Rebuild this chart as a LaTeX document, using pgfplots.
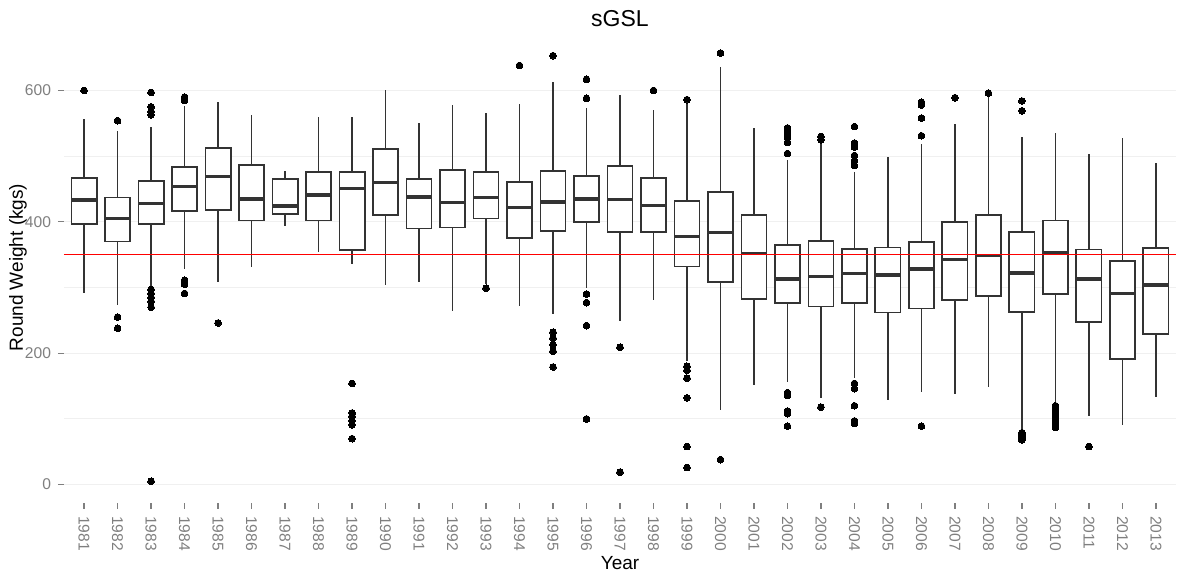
\documentclass[border=0pt]{standalone}
\usepackage{fontspec}
\setmainfont{Liberation Sans}
\usepackage{pgfplots}
\pgfplotsset{compat=1.18}
\usepgfplotslibrary{statistics}
\definecolor{boxc}{HTML}{333333}
\definecolor{tickc}{HTML}{7F7F7F}
\definecolor{gridc}{HTML}{F0F0F0}
\pgfplotsset{bxp/.style={draw=boxc, line width=0.9pt, fill=white, mark=*, mark size=1.7pt, mark options={draw=black, fill=black, line width=0pt}}}
\begin{document}
\begin{tikzpicture}
\begin{axis}[
  scale only axis, width=556pt, height=235.5pt,
  xmin=0.4, xmax=33.6, ymin=-28, ymax=689,
  axis line style={draw=none},
  xtick={1,2,3,4,5,6,7,8,9,10,11,12,13,14,15,16,17,18,19,20,21,22,23,24,25,26,27,28,29,30,31,32,33},
  xticklabels={1981,1982,1983,1984,1985,1986,1987,1988,1989,1990,1991,1992,1993,1994,1995,1996,1997,1998,1999,2000,2001,2002,2003,2004,2005,2006,2007,2008,2009,2010,2011,2012,2013},
  ytick={0,200,400,600}, minor ytick={100,300,500},
  ymajorgrids, yminorgrids,
  major grid style={gridc, line width=0.6pt},
  minor grid style={gridc, line width=0.5pt},
  tick align=outside, major tick length=3pt, minor tick length=0pt,
  xtick pos=bottom, ytick pos=left,
  tick style={tickc, line width=0.6pt},
  ticklabel style={font=\fontsize{7.8}{9}\selectfont, text=tickc},
  xticklabel style={rotate=-90, anchor=west},
  /pgf/number format/assume math mode=true,
  title={sGSL},
  every axis title/.style={at={(axis description cs:0.5,1)}, anchor=base, yshift=2.75pt, font=\fontsize{11.5}{13}\selectfont},
  xlabel={Year},
  xlabel style={font=\fontsize{9.5}{11}\selectfont, at={(axis description cs:0.5,-0.1274)}, anchor=center},
  ylabel={Round Weight (kgs)},
  ylabel style={font=\fontsize{9.5}{11}\selectfont, at={(axis description cs:-0.0414,0.5)}, anchor=center},
  boxplot/draw direction=y,
  boxplot/box extend=0.75,
  boxplot/whisker extend=0,
  boxplot/every median/.style={line width=1.7pt},
]
\addplot[bxp, boxplot prepared={draw position=1, lower whisker=291, lower quartile=396.5, median=433, upper quartile=467, upper whisker=557}] table[row sep=\\, y index=0] {y\\600\\};
\addplot[bxp, boxplot prepared={draw position=2, lower whisker=273, lower quartile=370, median=405.5, upper quartile=437, upper whisker=539}] table[row sep=\\, y index=0] {y\\554\\255\\238\\};
\addplot[bxp, boxplot prepared={draw position=3, lower whisker=302, lower quartile=396.5, median=428, upper quartile=462, upper whisker=545}] table[row sep=\\, y index=0] {y\\597\\575\\568\\563\\297\\291\\285\\279\\270\\5\\};
\addplot[bxp, boxplot prepared={draw position=4, lower whisker=328, lower quartile=417, median=454, upper quartile=483, upper whisker=577}] table[row sep=\\, y index=0] {y\\590\\587\\585\\311\\305\\291\\};
\addplot[bxp, boxplot prepared={draw position=5, lower whisker=308, lower quartile=418, median=469, upper quartile=512, upper whisker=582}] table[row sep=\\, y index=0] {y\\246\\};
\addplot[bxp, boxplot prepared={draw position=6, lower whisker=332, lower quartile=402, median=435, upper quartile=487, upper whisker=563}] coordinates {};
\addplot[bxp, boxplot prepared={draw position=7, lower whisker=394, lower quartile=412, median=424, upper quartile=465, upper whisker=478}] coordinates {};
\addplot[bxp, boxplot prepared={draw position=8, lower whisker=354, lower quartile=402, median=441, upper quartile=476, upper whisker=559}] coordinates {};
\addplot[bxp, boxplot prepared={draw position=9, lower whisker=336, lower quartile=357, median=451, upper quartile=476, upper whisker=560}] table[row sep=\\, y index=0] {y\\154\\109\\104\\97\\91\\70\\};
\addplot[bxp, boxplot prepared={draw position=10, lower whisker=304, lower quartile=411, median=460, upper quartile=511, upper whisker=601}] coordinates {};
\addplot[bxp, boxplot prepared={draw position=11, lower whisker=308, lower quartile=390, median=438, upper quartile=465, upper whisker=551}] coordinates {};
\addplot[bxp, boxplot prepared={draw position=12, lower whisker=265, lower quartile=391.5, median=429, upper quartile=479, upper whisker=578}] coordinates {};
\addplot[bxp, boxplot prepared={draw position=13, lower whisker=305, lower quartile=405, median=437, upper quartile=476, upper whisker=565}] table[row sep=\\, y index=0] {y\\299\\};
\addplot[bxp, boxplot prepared={draw position=14, lower whisker=272, lower quartile=376, median=422, upper quartile=461, upper whisker=580}] table[row sep=\\, y index=0] {y\\638\\};
\addplot[bxp, boxplot prepared={draw position=15, lower whisker=259, lower quartile=386.5, median=430, upper quartile=478, upper whisker=613}] table[row sep=\\, y index=0] {y\\653\\232\\223\\213\\203\\179\\};
\addplot[bxp, boxplot prepared={draw position=16, lower whisker=300, lower quartile=400, median=435, upper quartile=470, upper whisker=574}] table[row sep=\\, y index=0] {y\\617\\588\\290\\277\\242\\100\\};
\addplot[bxp, boxplot prepared={draw position=17, lower whisker=249, lower quartile=384, median=434, upper quartile=485, upper whisker=593}] table[row sep=\\, y index=0] {y\\209\\19\\};
\addplot[bxp, boxplot prepared={draw position=18, lower whisker=281, lower quartile=384, median=425, upper quartile=467, upper whisker=570}] table[row sep=\\, y index=0] {y\\600\\};
\addplot[bxp, boxplot prepared={draw position=19, lower whisker=188, lower quartile=332, median=378, upper quartile=432, upper whisker=579}] table[row sep=\\, y index=0] {y\\586\\180\\174\\162\\132\\58\\26\\};
\addplot[bxp, boxplot prepared={draw position=20, lower whisker=113, lower quartile=308, median=384, upper quartile=445, upper whisker=636}] table[row sep=\\, y index=0] {y\\657\\38\\};
\addplot[bxp, boxplot prepared={draw position=21, lower whisker=152, lower quartile=283, median=352, upper quartile=410, upper whisker=543}] coordinates {};
\addplot[bxp, boxplot prepared={draw position=22, lower whisker=156, lower quartile=277, median=313, upper quartile=365, upper whisker=494}] table[row sep=\\, y index=0] {y\\543\\538\\534\\529\\521\\504\\140\\136\\112\\108\\89\\};
\addplot[bxp, boxplot prepared={draw position=23, lower whisker=132, lower quartile=271, median=317, upper quartile=371, upper whisker=519}] table[row sep=\\, y index=0] {y\\530\\525\\118\\};
\addplot[bxp, boxplot prepared={draw position=24, lower whisker=163, lower quartile=277, median=321, upper quartile=359, upper whisker=476}] table[row sep=\\, y index=0] {y\\545\\520\\514\\501\\493\\486\\154\\146\\120\\97\\93\\};
\addplot[bxp, boxplot prepared={draw position=25, lower whisker=129, lower quartile=262, median=319, upper quartile=361, upper whisker=498}] coordinates {};
\addplot[bxp, boxplot prepared={draw position=26, lower whisker=141, lower quartile=268, median=328, upper quartile=369, upper whisker=519}] table[row sep=\\, y index=0] {y\\582\\578\\558\\531\\89\\};
\addplot[bxp, boxplot prepared={draw position=27, lower whisker=138, lower quartile=281, median=343, upper quartile=400, upper whisker=549}] table[row sep=\\, y index=0] {y\\589\\};
\addplot[bxp, boxplot prepared={draw position=28, lower whisker=148, lower quartile=287, median=349, upper quartile=410, upper whisker=593}] table[row sep=\\, y index=0] {y\\596\\};
\addplot[bxp, boxplot prepared={draw position=29, lower whisker=82, lower quartile=263, median=322, upper quartile=384, upper whisker=529}] table[row sep=\\, y index=0] {y\\584\\569\\79\\76\\73\\70\\68\\};
\addplot[bxp, boxplot prepared={draw position=30, lower whisker=124, lower quartile=290, median=353, upper quartile=402, upper whisker=536}] table[row sep=\\, y index=0] {y\\120\\117\\114\\111\\108\\105\\102\\99\\96\\93\\90\\87\\};
\addplot[bxp, boxplot prepared={draw position=31, lower whisker=105, lower quartile=248, median=313, upper quartile=358, upper whisker=504}] table[row sep=\\, y index=0] {y\\58\\};
\addplot[bxp, boxplot prepared={draw position=32, lower whisker=90, lower quartile=191, median=291, upper quartile=340, upper whisker=527}] coordinates {};
\addplot[bxp, boxplot prepared={draw position=33, lower whisker=134, lower quartile=229, median=304, upper quartile=360, upper whisker=489}] coordinates {};
\addplot[red, line width=0.6pt, forget plot] coordinates {(0.4,350) (33.6,350)};
\end{axis}
\pgfresetboundingbox
\path[use as bounding box] ([xshift=-32pt,yshift=-36.5pt]current axis.south west) rectangle ([xshift=1.5pt,yshift=16pt]current axis.north east);
\end{tikzpicture}
\end{document}
